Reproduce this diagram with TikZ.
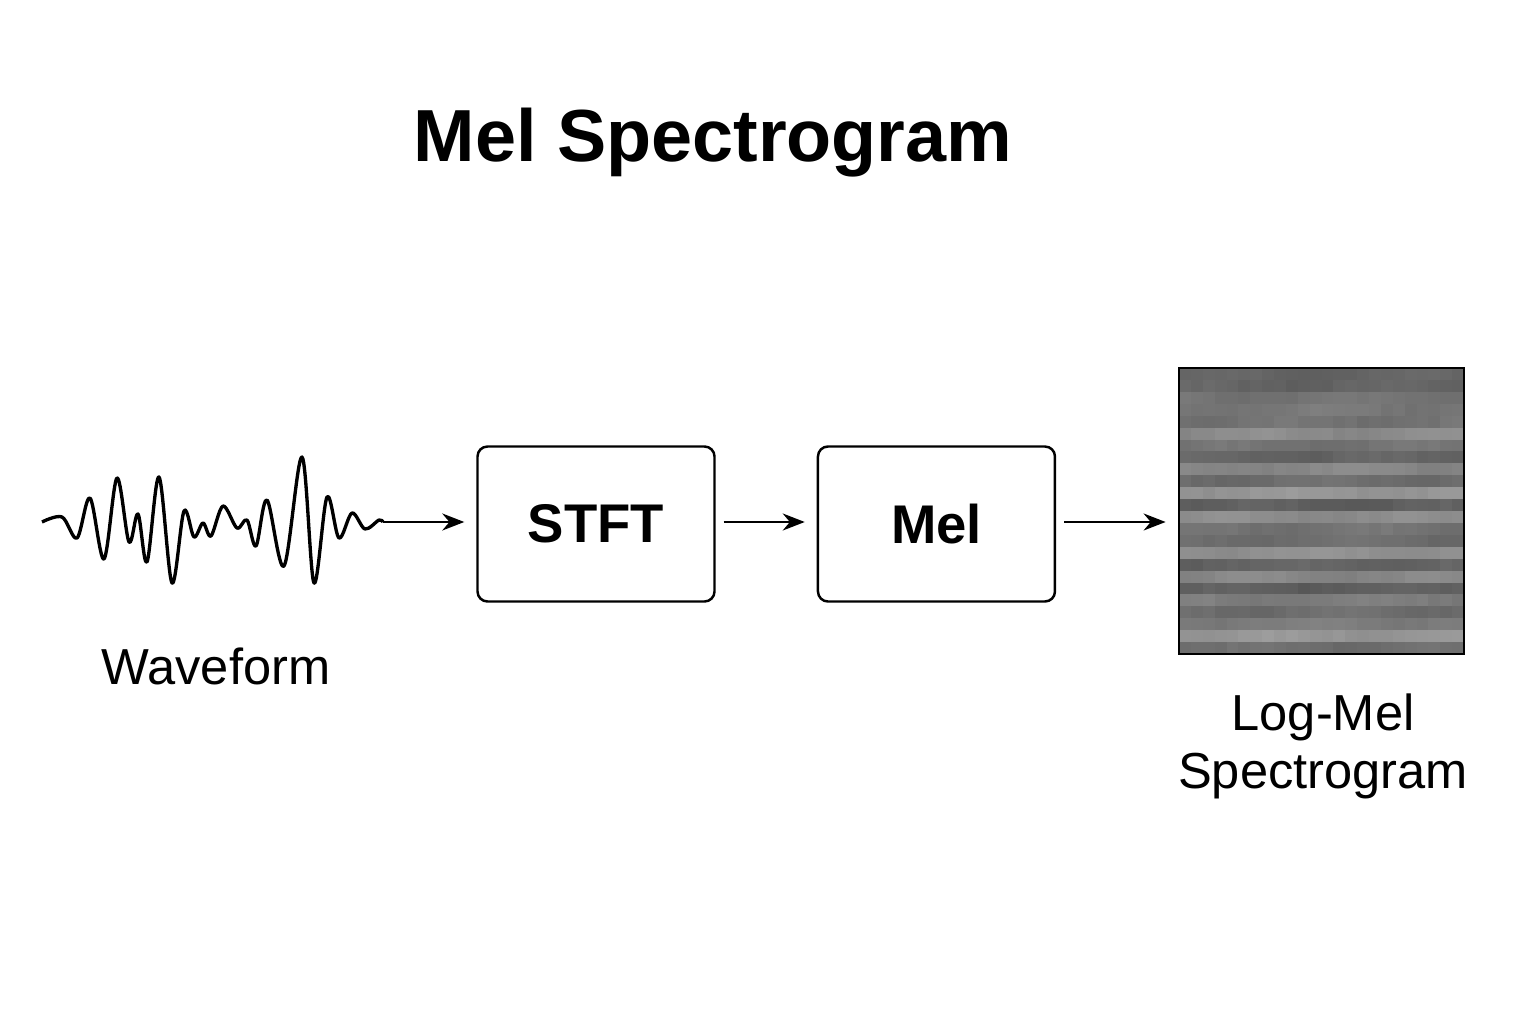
\documentclass[tikz,border=0pt]{standalone}
\usepackage{fontspec}
\setmainfont{Liberation Sans}
\usetikzlibrary{arrows.meta, positioning}

\begin{document}
\begin{tikzpicture}[
    stagebox/.style={draw, rounded corners=0.1cm, line width=0.7pt, minimum width=2.37cm, minimum height=1.55cm, font=\fontsize{15.5}{18}\selectfont\bfseries},
    flow/.style={-{Stealth[length=0.22cm,width=0.17cm]}, line width=0.65pt, shorten >=0.12cm, shorten <=0.08cm},
    caption/.style={font=\fontsize{14.4}{16.5}\selectfont, align=center}
]
    \useasboundingbox (0,0) rectangle (15.36,10.24);

    % Title
    \node (title) at (7.13,8.81) {\fontsize{21}{25}\selectfont\bfseries Mel Spectrogram};

    % Waveform
    \draw[line width=0.95pt, line join=round] plot[smooth, tension=0.55] coordinates {
        (0.42,5.02) (0.62,5.07) (0.77,4.86) (0.90,5.26) (1.04,4.65) (1.17,5.46)
        (1.29,4.82) (1.38,5.10) (1.47,4.62) (1.59,5.47) (1.72,4.41) (1.84,5.13)
        (1.94,4.87) (2.03,5.01) (2.11,4.88) (2.23,5.18) (2.37,4.96) (2.47,5.04)
        (2.56,4.78) (2.67,5.24) (2.84,4.58) (3.02,5.67) (3.14,4.41) (3.27,5.27)
        (3.39,4.86) (3.52,5.11) (3.65,4.95) (3.79,5.04) (3.83,5.02)};
    \coordinate (wave end) at (3.83,5.02);
    \node[caption] (wave label) at (2.16,3.58) {Waveform};

    % Processing stages
    \node[stagebox] (stft) at (5.96,5.0) {STFT};
    \node[stagebox, right=1.01cm of stft] (mel) {Mel};

    % Log-mel spectrogram
    \pgfmathsetseed{11}
    \foreach \r/\v in {0/100,1/100,2/115,3/120,4/115,5/140,6/115,7/100,8/135,9/110,10/150,11/95,
                       12/140,13/115,14/110,15/145,16/100,17/135,18/95,19/125,20/110,21/125,22/150,23/110} {
        \foreach \c in {0,...,23} {
            \pgfmathtruncatemacro\g{\v+5*sin(\c*23+\r*61)+3*rand}
            \definecolor{cellgray}{RGB}{\g,\g,\g}
            \fill[cellgray] ({11.79+\c*0.11875},{6.56-\r*0.11917}) rectangle ++(0.11875,-0.11917);
        }
    }
    \node[draw, line width=0.8pt, minimum width=2.85cm, minimum height=2.86cm, inner sep=0pt] (spec) at (13.215,5.13) {};
    \node[caption] (spec label) at (13.23,2.78) {Log-Mel\\Spectrogram};

    % Arrows
    \draw[flow, shorten <=0pt] (wave end) -- (wave end -| stft.west);
    \draw[flow] (stft.east |- wave end) -- (mel.west |- wave end);
    \draw[flow] (mel.east |- wave end) -- (spec.west |- wave end);
\end{tikzpicture}
\end{document}
